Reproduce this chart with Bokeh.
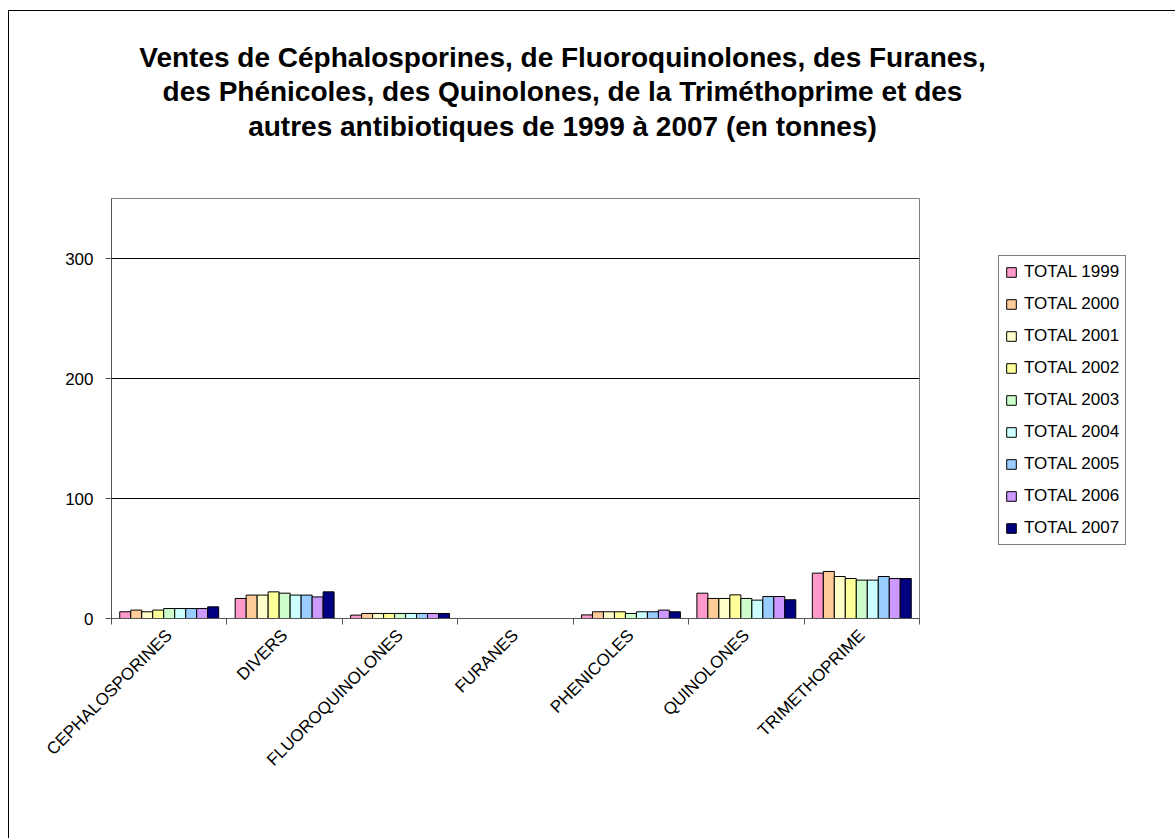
import math
from bokeh.plotting import figure
from bokeh.models import (ColumnDataSource, Range1d, FixedTicker, Legend, LegendItem, Label)
from bokeh.transform import dodge
from bokeh.embed import file_html
from bokeh.resources import INLINE

categories = ["CEPHALOSPORINES", "DIVERS", "FLUOROQUINOLONES", "FURANES",
              "PHENICOLES", "QUINOLONES", "TRIMETHOPRIME"]
years = ["TOTAL 1999", "TOTAL 2000", "TOTAL 2001", "TOTAL 2002", "TOTAL 2003",
         "TOTAL 2004", "TOTAL 2005", "TOTAL 2006", "TOTAL 2007"]

total_1999 = [5.6, 16.7, 2.8, 0.0, 3.0, 21.1, 37.8]
total_2000 = [7.0, 19.5, 4.2, 0.0, 5.6, 16.7, 39.2]
total_2001 = [5.6, 19.5, 4.2, 0.0, 5.6, 16.7, 35.0]
total_2002 = [7.0, 22.2, 4.2, 0.0, 5.6, 19.7, 33.3]
total_2003 = [8.3, 21.1, 4.2, 0.0, 4.2, 16.7, 32.0]
total_2004 = [8.3, 19.5, 4.2, 0.0, 5.6, 15.3, 32.0]
total_2005 = [8.3, 19.5, 4.2, 0.0, 5.6, 18.3, 35.0]
total_2006 = [8.3, 18.0, 4.2, 0.0, 7.0, 18.3, 33.3]
total_2007 = [9.7, 22.2, 4.2, 0.0, 5.6, 15.6, 33.3]
series = [total_1999, total_2000, total_2001, total_2002, total_2003,
          total_2004, total_2005, total_2006, total_2007]

colors = ["#FF99CC", "#FFCC99", "#FFFFCC", "#FFFF99", "#CCFFCC",
          "#CCFFFF", "#99CCFF", "#CC99FF", "#000080"]

y_ticks = [0, 100, 200, 300]

title_lines = ["Ventes de Céphalosporines, de Fluoroquinolones, des Furanes,",
               "des Phénicoles, des Quinolones, de la Triméthoprime et des",
               "autres antibiotiques de 1999 à 2007 (en tonnes)"]

FONT = "Liberation Sans"

n = len(categories)
centers = [i + 0.5 for i in range(n)]
data = {"xc": centers}
for y, vals in zip(years, series):
    data[y] = vals
source = ColumnDataSource(data)

p = figure(frame_width=808, frame_height=420,
           min_border_left=102, min_border_right=254,
           min_border_top=187, min_border_bottom=220,
           x_range=Range1d(0, n), y_range=Range1d(0, 350),
           output_backend="svg", toolbar_location=None, title=None)
p.styles = {"margin-left": "8px", "margin-top": "10px",
            "border-left": "1px solid black", "border-top": "1px solid black"}
p.background_fill_color = "white"
p.border_fill_color = "white"
p.outline_line_color = "#808080"
p.outline_line_width = 1

bar_w = 1.0 / 10.5
items = []
for j, (y, c) in enumerate(zip(years, colors)):
    off = (j - (len(years) - 1) / 2) * bar_w
    r = p.vbar(x=dodge("xc", off), top=y, bottom=0, width=bar_w, source=source,
               fill_color=c, line_color="black", line_width=1)
    items.append(LegendItem(label=y, renderers=[r]))

# axes
p.xgrid.visible = False
p.ygrid.ticker = FixedTicker(ticks=y_ticks)
p.ygrid.grid_line_color = "black"
p.ygrid.grid_line_width = 1

p.yaxis.ticker = FixedTicker(ticks=y_ticks)
p.yaxis.axis_line_color = "#555555"
p.yaxis.major_tick_line_color = "#555555"
p.yaxis.major_tick_out = 6
p.yaxis.major_tick_in = 0
p.yaxis.minor_tick_line_color = None
p.yaxis.major_label_text_font = FONT
p.yaxis.major_label_text_font_size = "17px"
p.yaxis.major_label_text_color = "black"
p.yaxis.major_label_standoff = 12

p.xaxis.ticker = FixedTicker(ticks=centers, minor_ticks=list(range(n + 1)))
p.xaxis.major_label_overrides = {c: name for c, name in zip(centers, categories)}
p.xaxis.axis_line_color = "#555555"
p.xaxis.major_tick_line_color = None
p.xaxis.major_tick_out = 0
p.xaxis.minor_tick_line_color = "#555555"
p.xaxis.minor_tick_out = 6
p.xaxis.minor_tick_in = 0
p.xaxis.major_label_orientation = math.pi / 4
p.xaxis.major_label_text_font = FONT
p.xaxis.major_label_text_font_size = "17px"
p.xaxis.major_label_text_color = "black"
p.xaxis.major_label_standoff = 8

legend = Legend(items=items, location=(79, 73))
legend.label_text_font = FONT
legend.label_text_font_size = "17px"
legend.label_text_color = "black"
legend.glyph_width = 12
legend.glyph_height = 12
legend.label_height = 20
legend.label_standoff = 7
legend.spacing = 12
legend.padding = 6
legend.margin = 0
legend.border_line_color = "black"
legend.border_line_width = 1
legend.background_fill_color = "white"
legend.background_fill_alpha = 1
p.add_layout(legend, "right")

p.add_layout(Label(x=451, y=157, x_units="screen", y_units="screen",
                   text="\n".join(title_lines), text_align="center",
                   text_baseline="top", text_line_height=1.12,
                   text_font_size="28px", text_font_style="bold",
                   text_font=FONT, text_color="black"), "above")

open("out.html", "w").write(file_html(p, INLINE))
